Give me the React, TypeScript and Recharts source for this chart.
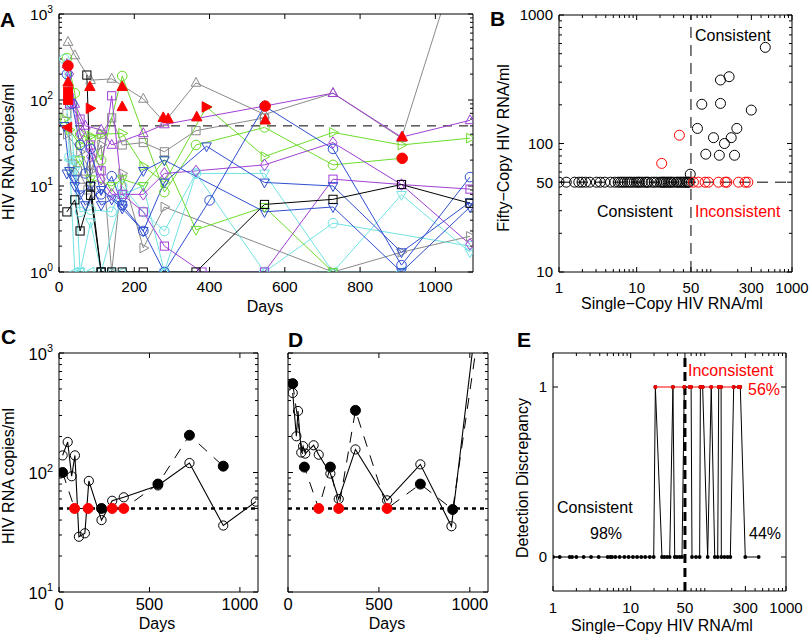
import React from 'react'
import { ComposedChart, Line, Scatter, XAxis, YAxis, ReferenceLine } from 'recharts'

const FONT = '"Liberation Sans", Arial, Helvetica, sans-serif'
const BLACK = '#000000'
const GRAY = '#8a8a8a'
const GREEN = '#6ddc2c'
const PURPLE = '#a040d4'
const BLUE = '#2f4fcf'
const CYAN = '#72e3e3'
const RED = '#ff0000'

type Pt = [number, number]

// ---- panel A: viral load over time, one array per patient [day, copies/ml]
const aGrayTri: Pt[] = [[24, 472], [42, 330], [84, 170], [140, 176], [224, 103], [280, 55], [364, 158], [546, 68], [728, 120], [910, 36], [1092, 12000]]
const aGraySq: Pt[] = [[21, 70], [35, 18], [49, 15], [63, 12], [77, 9], [112, 40], [140, 62], [168, 30], [224, 32], [280, 25], [364, 44], [546, 62]]
const aGrayRt: Pt[] = [[21, 40], [56, 25], [84, 15], [112, 30], [140, 1], [168, 14], [224, 1.9], [280, 5.7], [728, 1], [910, 1.7], [1092, 2.6]]
const aGreenCirc: Pt[] = [[21, 307], [42, 120], [56, 40], [84, 35], [112, 20], [168, 190], [280, 8.5], [364, 30], [546, 48], [728, 17.6], [910, 21]]
const aGreenRt: Pt[] = [[14, 60], [28, 45], [56, 30], [84, 38], [112, 40], [168, 41], [224, 17], [280, 11], [392, 83], [546, 22], [728, 42], [910, 30], [1092, 36]]
const aGreenDn: Pt[] = [[28, 15], [56, 20], [84, 12], [140, 10], [168, 12], [224, 10], [280, 20], [364, 3.1], [546, 5.7], [728, 1]]
const aPurpTri: Pt[] = [[21, 260], [42, 90], [70, 50], [112, 45], [140, 30], [224, 41], [280, 52], [546, 85], [728, 120], [910, 37], [1092, 58]]
const aPurpDia: Pt[] = [[28, 200], [56, 40], [84, 22], [112, 12], [140, 8], [224, 8], [280, 14], [364, 15], [546, 17.6], [728, 32], [910, 10.4], [1092, 2.1]]
const aPurpSq: Pt[] = [[28, 90], [56, 60], [84, 30], [112, 15], [140, 112], [168, 8], [224, 5], [280, 2], [380, 1], [546, 1], [728, 12], [910, 10.4], [1092, 9.2]]
const aBlueCirc: Pt[] = [[21, 200], [35, 90], [56, 30], [70, 14], [84, 27], [112, 8], [140, 13], [168, 6], [224, 3], [280, 1], [400, 6.8], [546, 85], [728, 27], [910, 1.2], [1092, 12.7]]
const aBlueDn: Pt[] = [[14, 50], [28, 15], [42, 12], [56, 8], [84, 10], [112, 6], [140, 7], [168, 5.5], [224, 3], [280, 11], [392, 29], [546, 11], [728, 10], [910, 1.7], [1092, 6.5]]
const aBlueDn2: Pt[] = [[21, 14], [42, 10], [70, 6], [112, 9], [168, 6], [224, 15], [280, 20], [546, 5], [728, 5.7], [910, 1], [1092, 5.7]]
const aBlackSq: Pt[] = [[21, 5], [42, 6.9], [56, 3], [84, 7.8], [112, 1], [364, 1], [546, 6.1], [728, 7], [910, 10.4], [1092, 6.3]]
const aBlackSq2: Pt[] = [[74, 195], [84, 10], [112, 1], [140, 1], [168, 1], [224, 1]]
const aCyanCirc: Pt[] = [[14, 300], [28, 22], [42, 20], [56, 5], [84, 5.3], [140, 5], [168, 10], [224, 5], [280, 3], [364, 14], [546, 1], [728, 3.7], [1092, 2]]
const aCyanDn: Pt[] = [[21, 250], [42, 15], [56, 1], [84, 3.8], [112, 1], [168, 8], [224, 10], [280, 1], [364, 14], [546, 14], [728, 1], [910, 7.9], [1092, 1.7]]
const aCyanLt: Pt[] = [[28, 20], [42, 1], [56, 1], [84, 1], [140, 1], [168, 1], [280, 1], [546, 1], [728, 1], [910, 1]]

// filled red markers (blips)
const aRedTri: Pt[] = [[24, 160], [82, 142], [168, 142], [168, 83], [277, 62], [290, 60], [366, 63], [548, 58], [912, 37]]
const aRedRt: Pt[] = [[82, 80], [390, 83]]
const aRedCirc: Pt[] = [[24, 250], [548, 85], [912, 21]]
const aRedSq: Pt[] = [[24, 125], [24, 100]]
const aRedLt: Pt[] = [[24, 48]]

const LIMIT = 50

// ---- panel B: single-copy vs fifty-copy assay
const bLowX = [1.0, 1.24, 1.59, 1.8, 1.98, 2.2, 2.49, 3.03, 3.4, 3.89, 4.6, 5.23, 5.78, 6.2, 6.6, 7.05, 7.56, 8.1, 8.6, 9.3, 9.97, 10.5, 11, 11.8, 12.8, 13.5, 14.1, 15.6, 16.8, 18.1, 19.9, 21, 22, 23, 24.3, 25.5, 27, 28.1, 30, 32.6, 34, 36.2, 38, 40, 42, 44.1, 46, 47.6]
const bHigh: Pt[] = [[453, 560], [155, 331], [120, 312], [69, 202], [120, 205], [299, 182], [60.6, 131], [195, 131], [97.5, 111], [165, 111], [135, 100], [77.6, 82.6], [116, 81], [182, 81], [49, 57.7]]
const bRedHigh: Pt[] = [[21, 70], [35.5, 116]]
const bRedLowX = [53.8, 62.4, 76, 84, 113, 138, 145, 205, 250, 270]

// ---- panels C and D: two patients [day, copies/ml]
const cOpen: Pt[] = [[20, 139], [48, 180], [70, 93], [88, 139], [110, 29], [143, 31], [165, 85], [235, 40], [294, 58], [358, 62], [547, 78], [721, 120], [908, 36], [1088, 57]]
const cDark: Pt[] = [[20, 100], [235, 50], [547, 80], [721, 205], [908, 113]]
const cRed: Pt[] = [[86, 50], [161, 50], [294, 50], [358, 50]]

const dOpen: Pt[] = [[26, 463], [46, 201], [55, 327], [73, 147], [83, 166], [95, 144], [141, 169], [169, 141], [233, 98], [279, 60], [371, 156], [545, 58.5], [728, 117], [899, 35.5], [1092, 10000]]
const dDark: Pt[] = [[26, 554], [90, 111], [233, 111], [371, 331], [728, 80], [906, 49], [1092, 4400]]
const dRed: Pt[] = [[169, 50], [279, 50], [545, 50]]

// ---- panel E: detection discrepancy (0 = consistent, 1 = inconsistent)
const eZeroX = [1, 1.22, 1.64, 1.76, 2.0, 2.48, 3.09, 3.87, 5.06, 5.47, 5.75, 6.35, 7.2, 8.3, 9.4, 10.7, 12.1, 13.7, 15.4, 17.6, 19.8, 25.3, 27.1, 29.4, 31.8, 36.9, 39.5, 42.8, 45.8, 61.6, 69.4, 77.3, 98, 121, 132, 147, 161, 177, 192, 299, 445]
const eOneX = [20.8, 35, 49, 57.5, 60, 79, 84.5, 109, 136, 146, 212, 246, 258]

// ---- axis ticks
const dayTicksA = [0, 200, 400, 600, 800, 1000]
const dayTicksCD = [0, 500, 1000]
const powTicks3 = [1, 10, 100, 1000]
const powTicks2 = [10, 100, 1000]
const minor1to1000 = [2, 3, 4, 5, 6, 7, 8, 9, 20, 30, 40, 50, 60, 70, 80, 90, 200, 300, 400, 500, 600, 700, 800, 900]
const minor10to1000 = [20, 30, 40, 50, 60, 70, 80, 90, 200, 300, 400, 500, 600, 700, 800, 900]
const scTicks = [1, 10, 50, 300, 1000]
const scMinor = [2, 3, 4, 5, 6, 7, 8, 9, 20, 30, 40, 60, 70, 80, 90, 200, 400, 500, 600, 700, 800, 900]
const fiftyTicks = [10, 50, 100, 1000]
const fiftyMinor = [20, 30, 40, 60, 70, 80, 90, 200, 300, 400, 500, 600, 700, 800, 900]
const discTicks = [0, 1]

const toXY = (pts: Pt[]) => pts.map(([x, y]) => ({ x, y }))
const byX = (a: { x: number }, b: { x: number }) => a.x - b.x

// ---- markers
const SHAPES: Record<string, number[][]> = {
  '^': [[0, -1.15], [1, 0.7], [-1, 0.7]],
  v: [[0, 1.15], [1, -0.7], [-1, -0.7]],
  '>': [[1.15, 0], [-0.7, -1], [-0.7, 1]],
  '<': [[-1.15, 0], [0.7, -1], [0.7, 1]],
  d: [[0, -1.2], [0.85, 0], [0, 1.2], [-0.85, 0]],
}

function marker(shape: string, cx: number, cy: number, s: number, color: string, filled: boolean, key?: any) {
  if (!Number.isFinite(cx) || !Number.isFinite(cy)) return <g key={key} />
  const st = { stroke: color, strokeWidth: 1, fill: filled ? color : 'none' }
  if (shape === 'o') return <circle key={key} cx={cx} cy={cy} r={s} {...st} />
  if (shape === 's') return <rect key={key} x={cx - s * 0.85} y={cy - s * 0.85} width={s * 1.7} height={s * 1.7} {...st} />
  const pts = SHAPES[shape].map(([dx, dy]) => `${cx + dx * s},${cy + dy * s}`).join(' ')
  return <polygon key={key} points={pts} {...st} />
}
const dotFn = (shape: string, color: string, filled: boolean, s: number) => (p: any) =>
  marker(shape, p.cx, p.cy, s, color, filled, p.index)

// ---- frame and axes
const YW = 52
const MT = 10
const MR = 24
const XH = 36
const THIN = 0.01 // mirrored tick-only axes take (almost) no room

type Ax = { scale: 'linear' | 'log'; domain: [number, number]; major: number[]; minor: number[] }

function Frame({ x, y, w, h, children }: any) {
  return (
    <div style={{ position: 'absolute', left: x - YW, top: y - MT }}>
      <ComposedChart width={YW + w + MR} height={MT + h + XH} margin={{ top: MT, right: MR, bottom: 0, left: 0 }}>
        {children}
      </ComposedChart>
    </div>
  )
}

const xTick = (fs: number) => (p: any) => (
  <text x={p.x} y={p.y} dy="0.71em" textAnchor="middle" fontSize={fs} fontFamily={FONT} fill={BLACK}>
    {p.payload.value}
  </text>
)
const yTick = (fs: number) => (p: any) => (
  <text x={p.x} y={p.y} dy="0.36em" textAnchor="end" fontSize={fs} fontFamily={FONT} fill={BLACK}>
    {p.payload.value}
  </text>
)
const powTick = (fs: number) => (p: any) => (
  <text x={p.x} y={p.y} dy="0.4em" textAnchor="end" fontSize={fs} fontFamily={FONT} fill={BLACK}>
    10<tspan dy={-fs * 0.45} fontSize={fs * 0.66}>{Math.round(Math.log10(p.payload.value))}</tspan>
  </text>
)
const noLabel = () => <g />

function axes(xa: Ax, ya: Ax, xt: any, yt: any, xGap: number, yGap: number) {
  const base = { type: 'number' as const, allowDataOverflow: true, interval: 0 as const, stroke: BLACK }
  const xb = { ...base, scale: xa.scale, domain: xa.domain, dataKey: 'x' }
  const yb = { ...base, scale: ya.scale, domain: ya.domain, dataKey: 'y' }
  const list: any[] = [
    <XAxis key="xb" xAxisId="b" orientation="bottom" height={XH} {...xb} ticks={xa.major} tick={xt} tickLine={false} axisLine={false} tickSize={0} tickMargin={xGap} />,
    <YAxis key="yl" yAxisId="l" orientation="left" width={YW} {...yb} ticks={ya.major} tick={yt} tickLine={false} axisLine={false} tickSize={0} tickMargin={yGap} />,
  ]
  const sides: [string, any][] = [['x', 'bottom'], ['x', 'top'], ['y', 'left'], ['y', 'right']]
  sides.forEach(([k, o]) => {
    const a = k === 'x' ? xa : ya
    const kinds: [string, number[], number, boolean][] = [['M', a.major, 5, true], ['N', a.minor, 3, false]]
    kinds.forEach(([t, ticks, size, line]) => {
      if (!ticks.length) return
      const id = k + o + t
      const p = { orientation: o, mirror: true, ticks, tick: noLabel, tickLine: { stroke: BLACK, strokeWidth: 1 }, tickSize: size, axisLine: line }
      if (k === 'x') list.push(<XAxis key={id} xAxisId={id} height={THIN} {...xb} {...p} />)
      else list.push(<YAxis key={id} yAxisId={id} width={THIN} {...yb} {...p} />)
    })
  })
  return list
}

const ids = { xAxisId: 'b', yAxisId: 'l' }

const aSeries = [
  { pts: aGrayTri, color: GRAY, mark: '^' },
  { pts: aGraySq, color: GRAY, mark: 's' },
  { pts: aGrayRt, color: GRAY, mark: '>' },
  { pts: aCyanCirc, color: CYAN, mark: 'o' },
  { pts: aCyanDn, color: CYAN, mark: 'v' },
  { pts: aCyanLt, color: CYAN, mark: '<' },
  { pts: aGreenCirc, color: GREEN, mark: 'o' },
  { pts: aGreenRt, color: GREEN, mark: '>' },
  { pts: aGreenDn, color: GREEN, mark: 'v' },
  { pts: aPurpTri, color: PURPLE, mark: '^' },
  { pts: aPurpDia, color: PURPLE, mark: 'd' },
  { pts: aPurpSq, color: PURPLE, mark: 's' },
  { pts: aBlueCirc, color: BLUE, mark: 'o' },
  { pts: aBlueDn, color: BLUE, mark: 'v' },
  { pts: aBlueDn2, color: BLUE, mark: 'v' },
  { pts: aBlackSq, color: BLACK, mark: 's' },
  { pts: aBlackSq2, color: BLACK, mark: 's' },
]
const aReds = [
  { pts: aRedTri, mark: '^' },
  { pts: aRedRt, mark: '>' },
  { pts: aRedCirc, mark: 'o' },
  { pts: aRedSq, mark: 's' },
  { pts: aRedLt, mark: '<' },
]

function PanelA() {
  const xa: Ax = { scale: 'linear', domain: [0, 1100], major: dayTicksA, minor: [] }
  const ya: Ax = { scale: 'log', domain: [1, 1000], major: powTicks3, minor: minor1to1000 }
  return (
    <Frame x={59} y={14} w={414} h={258}>
      {axes(xa, ya, xTick(15.5), powTick(15.5), 9, 6)}
      <ReferenceLine {...ids} y={LIMIT} stroke={BLACK} strokeWidth={1} strokeDasharray="9 7" />
      {aSeries.map((s, i) => (
        <Line key={'a' + i} {...ids} data={toXY(s.pts)} dataKey="y" stroke={s.color} strokeWidth={1}
          dot={dotFn(s.mark, s.color, false, 4.8)} activeDot={false} isAnimationActive={false} />
      ))}
      {aReds.map((s, i) => (
        <Scatter key={'r' + i} {...ids} data={toXY(s.pts)} dataKey="y"
          shape={(p: any) => marker(s.mark, p.cx, p.cy, 5.2, RED, true)} isAnimationActive={false} />
      ))}
    </Frame>
  )
}

function PanelB() {
  const xa: Ax = { scale: 'log', domain: [1, 1000], major: scTicks, minor: scMinor }
  const ya: Ax = { scale: 'log', domain: [10, 1000], major: fiftyTicks, minor: fiftyMinor }
  const low = bLowX.map((x) => ({ x, y: LIMIT }))
  const redLow = bRedLowX.map((x) => ({ x, y: LIMIT }))
  return (
    <Frame x={559} y={15} w={233} h={257}>
      {axes(xa, ya, xTick(15), yTick(15), 10, 6)}
      <ReferenceLine {...ids} y={LIMIT} stroke={BLACK} strokeDasharray="11 7" />
      <ReferenceLine {...ids} x={LIMIT} stroke={BLACK} strokeDasharray="11 7" />
      <Scatter {...ids} data={[...low, ...toXY(bHigh)]} dataKey="y"
        shape={(p: any) => marker('o', p.cx, p.cy, 5, BLACK, false)} isAnimationActive={false} />
      <Scatter {...ids} data={[...redLow, ...toXY(bRedHigh)]} dataKey="y"
        shape={(p: any) => marker('o', p.cx, p.cy, 5, RED, false)} isAnimationActive={false} />
    </Frame>
  )
}

function TimePanel({ x, open, dark, red, labels }: { x: number; open: Pt[]; dark: Pt[]; red: Pt[]; labels: boolean }) {
  const xa: Ax = { scale: 'linear', domain: [0, 1100], major: dayTicksCD, minor: [] }
  const ya: Ax = { scale: 'log', domain: [10, 1000], major: powTicks2, minor: minor10to1000 }
  const dashed = [...toXY(dark), ...toXY(red)].sort(byX)
  return (
    <Frame x={x} y={353} w={x === 59 ? 199 : 200} h={239}>
      {axes(xa, ya, xTick(16.5), labels ? powTick(16.5) : false, 6, 6)}
      <ReferenceLine {...ids} y={LIMIT} stroke={BLACK} strokeWidth={2.5} strokeDasharray="4 4" />
      <Line {...ids} data={dashed} dataKey="y" stroke={BLACK} strokeWidth={1} strokeDasharray="11 9" dot={false} activeDot={false} isAnimationActive={false} />
      <Line {...ids} data={toXY(open)} dataKey="y" stroke={BLACK} strokeWidth={1.1} dot={dotFn('o', BLACK, false, 4.6)} activeDot={false} isAnimationActive={false} />
      <Scatter {...ids} data={toXY(dark)} dataKey="y" shape={(p: any) => marker('o', p.cx, p.cy, 5, BLACK, true)} isAnimationActive={false} />
      <Scatter {...ids} data={toXY(red)} dataKey="y" shape={(p: any) => marker('o', p.cx, p.cy, 5, RED, true)} isAnimationActive={false} />
    </Frame>
  )
}

function PanelE() {
  const xa: Ax = { scale: 'log', domain: [1, 1000], major: scTicks, minor: scMinor }
  const ya: Ax = { scale: 'linear', domain: [-0.2, 1.2], major: discTicks, minor: [] }
  const zeros = eZeroX.map((x) => ({ x, y: 0 }))
  const ones = eOneX.map((x) => ({ x, y: 1 }))
  const all = [...zeros, ...ones].sort(byX)
  return (
    <Frame x={553} y={353} w={233} h={238}>
      {axes(xa, ya, xTick(15), yTick(15), 11, 6)}
      <Line {...ids} data={all} dataKey="y" stroke={BLACK} strokeWidth={1}
        dot={(p: any) => <circle key={p.index} cx={p.cx} cy={p.cy} r={1.9} fill={BLACK} />} activeDot={false} isAnimationActive={false} />
      <Line {...ids} data={ones} dataKey="y" stroke={RED} strokeWidth={1}
        dot={(p: any) => <circle key={p.index} cx={p.cx} cy={p.cy} r={1.9} fill={RED} />} activeDot={false} isAnimationActive={false} />
      <ReferenceLine {...ids} x={LIMIT} stroke={BLACK} strokeWidth={3} strokeDasharray="9 5" />
    </Frame>
  )
}

function Txt(props: any) {
  return <text fontFamily={FONT} fill={BLACK} fontSize={16} {...props} />
}
function VTxt({ x, y, children }: any) {
  return (
    <Txt x={x} y={y} textAnchor="middle" transform={`rotate(-90 ${x} ${y})`}>
      {children}
    </Txt>
  )
}

export default function App() {
  return (
    <div style={{ position: 'absolute', left: 0, top: 0, width: 810, height: 635, background: '#fff', overflow: 'hidden' }}>
      <PanelA />
      <PanelB />
      <TimePanel x={59} open={cOpen} dark={cDark} red={cRed} labels />
      <TimePanel x={288} open={dOpen} dark={dDark} red={dRed} labels={false} />
      <PanelE />
      <svg width={810} height={635} style={{ position: 'absolute', left: 0, top: 0, pointerEvents: 'none' }}>
        <Txt x={0} y={27} fontSize={21} fontWeight="bold">A</Txt>
        <Txt x={490} y={26} fontSize={21} fontWeight="bold">B</Txt>
        <Txt x={1} y={344} fontSize={21} fontWeight="bold">C</Txt>
        <Txt x={288} y={347} fontSize={21} fontWeight="bold">D</Txt>
        <Txt x={517} y={347} fontSize={21} fontWeight="bold">E</Txt>

        <VTxt x={13.5} y={152}>HIV RNA copies/ml</VTxt>
        <Txt x={265} y={312} textAnchor="middle">Days</Txt>
        <VTxt x={508.5} y={148}>Fifty−Copy HIV RNA/ml</VTxt>
        <Txt x={672} y={309} textAnchor="middle">Single−Copy HIV RNA/ml</Txt>
        <VTxt x={13.5} y={476}>HIV RNA copies/ml</VTxt>
        <Txt x={157} y={629} textAnchor="middle">Days</Txt>
        <Txt x={387} y={629} textAnchor="middle">Days</Txt>
        <VTxt x={528} y={478}>Detection Discrepancy</VTxt>
        <Txt x={662} y={631} textAnchor="middle">Single−Copy HIV RNA/ml</Txt>

        <Txt x={695} y={41}>Consistent</Txt>
        <Txt x={597} y={217}>Consistent</Txt>
        <Txt x={695} y={217} fill={RED}>Inconsistent</Txt>

        <Txt x={557} y={513}>Consistent</Txt>
        <Txt x={590} y={539}>98%</Txt>
        <Txt x={749} y={539}>44%</Txt>
        <Txt x={688} y={376} fill={RED}>Inconsistent</Txt>
        <Txt x={748} y={395} fill={RED}>56%</Txt>
      </svg>
    </div>
  )
}
